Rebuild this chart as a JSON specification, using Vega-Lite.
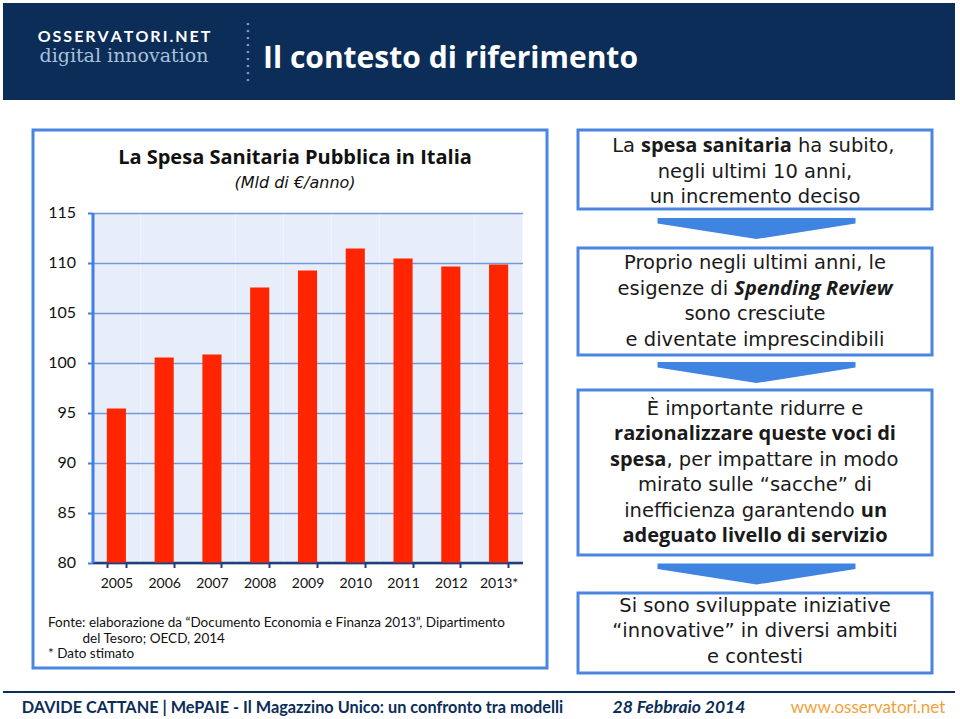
{
  "$schema": "https://vega.github.io/schema/vega-lite/v6.json",
  "padding": {"left": 3, "top": 3, "right": 0, "bottom": 0},
  "background": "white",
  "spacing": 0,
  "config": {"view": {"stroke": null}, "font": "Lato", "concat": {"spacing": 0}},
  "vconcat": [
    {
      "hconcat": [
        {
          "width": 242, "height": 97,
          "view": {"fill": "#0B2D57", "stroke": null},
          "title": {"text": "O\u2009S\u2009S\u2009E\u2009R\u2009V\u2009A\u2009T\u2009O\u2009R\u2009I\u2009.\u2009N\u2009E\u2009T", "subtitle": "digital innovation", "anchor": "middle", "frame": "group", "offset": -62.5, "color": "white", "fontSize": 16, "fontWeight": "bold", "subtitleFont": "DejaVu Serif", "subtitleFontSize": 19, "subtitleColor": "#A9C2DB", "subtitlePadding": 2},
          "data": {"values": []},
          "mark": "point"
        },
        {
          "width": 6, "height": 97,
          "view": {"fill": "#0B2D57", "stroke": null},
          "data": {"values": [{"punti": ["•", "•", "•", "•", "•", "•", "•", "•", "•"]}]},
          "mark": {"type": "text", "color": "#8DA6C6", "fontSize": 6.5, "lineHeight": 7, "dy": -28},
          "encoding": {"text": {"field": "punti", "type": "nominal"}}
        },
        {
          "width": 704, "height": 97,
          "view": {"fill": "#0B2D57", "stroke": null},
          "title": {"text": "Il contesto di riferimento", "anchor": "start", "frame": "group", "dx": 12, "offset": -71.3, "color": "white", "font": "Open Sans", "fontSize": 30, "fontWeight": "bold"},
          "data": {"values": []},
          "mark": "point"
        }
      ],
      "spacing": 0
    },
    {"width": 1, "height": 28, "data": {"values": []}, "mark": "point"},
    {
      "hconcat": [
        {"width": 1, "height": 1, "data": {"values": []}, "mark": "point"},
        {
          "width": 514, "height": 538,
          "view": {"fill": "white", "stroke": "#4A86E0", "strokeWidth": 3},
          "title": {"text": "La Spesa Sanitaria Pubblica in Italia", "subtitle": "(Mld di €/anno)", "anchor": "middle", "frame": "group", "offset": -61, "dx": 5, "font": "Open Sans", "fontSize": 20, "fontWeight": "bold", "color": "#111111", "subtitleFont": "DejaVu Sans", "subtitleFontSize": 16, "subtitleFontStyle": "italic", "subtitleColor": "#111111", "subtitlePadding": 7},
          "data": {"values": [
            {"anno": "2005", "spesa": 95.4},
            {"anno": "2006", "spesa": 100.5},
            {"anno": "2007", "spesa": 100.8},
            {"anno": "2008", "spesa": 107.5},
            {"anno": "2009", "spesa": 109.2},
            {"anno": "2010", "spesa": 111.4},
            {"anno": "2011", "spesa": 110.4},
            {"anno": "2012", "spesa": 109.6},
            {"anno": "2013*", "spesa": 109.8}
          ]},
          "encoding": {
            "y": {
              "field": "spesa", "type": "quantitative",
              "scale": {"domain": [80, 115], "range": [432.5, 82.5], "zero": false, "nice": false},
              "axis": {
                "orient": "left", "offset": -59.5,
                "values": [80, 85, 90, 95, 100, 105, 110, 115],
                "grid": true, "gridColor": "#7398D8", "gridWidth": 1.5,
                "domainColor": "#3F7FE6", "domainWidth": 3,
                "tickColor": "#3F7FE6", "tickSize": 5, "tickWidth": 2,
                "labelPadding": 12, "labelFontSize": 16, "labelColor": "#111111",
                "title": null
              }
            },
            "y2": {"datum": 80}
          },
          "layer": [
            {
              "mark": {"type": "bar", "color": "#FF2500", "opacity": 0},
              "encoding": {
                "x": {
                  "field": "anno", "type": "ordinal", "sort": null,
                  "scale": {"range": [59.5, 489.5], "paddingInner": 0.6, "paddingOuter": 0.3},
                  "axis": {
                    "orient": "top", "grid": true, "gridColor": "#E8EEF9", "gridWidth": 47.8, "gridOpacity": 1,
                    "tickBand": "center", "bandPosition": 0.5,
                    "labels": false, "ticks": false, "domain": false, "title": null
                  }
                }
              }
            },
            {
              "mark": {"type": "bar", "color": "#FF2500"},
              "encoding": {
                "x": {
                  "field": "anno", "type": "ordinal", "sort": null,
                  "scale": {"range": [59.5, 489.5], "paddingInner": 0.6, "paddingOuter": 0.3},
                  "axis": {
                    "orient": "bottom", "offset": -105.5, "grid": false,
                    "tickBand": "extent", "ticks": true, "tickSize": 5, "tickWidth": 2, "tickColor": "#1F3F7C",
                    "domainColor": "#1F3F7C", "domainWidth": 2.5,
                    "labelFontSize": 14, "labelColor": "#111111", "labelPadding": 9, "labelAngle": 0,
                    "title": ["Fonte: elaborazione da “Documento Economia e Finanza 2013”, Dipartimento", "\u200b\u00a0\u00a0\u00a0\u00a0\u00a0\u00a0\u00a0\u00a0\u00a0\u00a0del Tesoro; OECD, 2014", "* Dato stimato"],
                    "titleX": 14.5, "titleY": 64, "titleAlign": "left", "titleBaseline": "alphabetic", "titleAnchor": "start",
                    "titleFontSize": 13.5, "titleFontWeight": "normal", "titleColor": "#111111", "titleLineHeight": 15.5, "titleAngle": 0
                  }
                }
              }
            }
          ],
          "resolve": {"axis": {"x": "independent"}}
        },
        {
          "vconcat": [
            {
              "width": 354, "height": 79,
              "view": {"fill": "white", "stroke": "#4A86E0", "strokeWidth": 3},
              "data": {"values": [{"a": "La", "b": "spesa sanitaria", "c": "ha subito,", "resto": ["negli ultimi 10 anni,", "un incremento deciso"]}]},
              "layer": [
                {"mark": {"type": "text", "font": "DejaVu Sans", "fontSize": 19.5, "align": "right", "dx": -120, "dy": -23.4, "color": "#1A1A1A"}, "encoding": {"text": {"field": "a", "type": "nominal"}}},
                {"mark": {"type": "text", "font": "Open Sans", "fontSize": 20, "fontWeight": "bold", "align": "left", "dx": -114, "dy": -23.4, "color": "#1A1A1A"}, "encoding": {"text": {"field": "b", "type": "nominal"}}},
                {"mark": {"type": "text", "font": "DejaVu Sans", "fontSize": 19.5, "align": "right", "dx": 139.5, "dy": -23.4, "color": "#1A1A1A"}, "encoding": {"text": {"field": "c", "type": "nominal"}}},
                {"mark": {"type": "text", "font": "DejaVu Sans", "fontSize": 19.5, "lineHeight": 25.4, "dy": 2, "color": "#1A1A1A"}, "encoding": {"text": {"field": "resto", "type": "nominal"}}}
              ]
            },
            {
              "width": 357, "height": 35,
              "data": {"values": [{"freccia": "giù"}]},
              "mark": {"type": "point", "shape": "M-1,-0.106L1,-0.106L1,-0.05L0,0.106L-1,-0.05Z", "size": 39204, "filled": true, "color": "#3E84E0", "opacity": 1, "strokeWidth": 0}
            },
            {
              "width": 354, "height": 107,
              "view": {"fill": "white", "stroke": "#4A86E0", "strokeWidth": 3},
              "data": {"values": [{"riga1": "Proprio negli ultimi anni, le", "a": "esigenze di", "b": "Spending Review", "resto": ["sono cresciute", "e diventate imprescindibili"]}]},
              "layer": [
                {"mark": {"type": "text", "font": "DejaVu Sans", "fontSize": 19.5, "dy": -38.1, "color": "#1A1A1A"}, "encoding": {"text": {"field": "riga1", "type": "nominal"}}},
                {"mark": {"type": "text", "font": "DejaVu Sans", "fontSize": 19.5, "align": "right", "dx": -26.85, "dy": -12.7, "color": "#1A1A1A"}, "encoding": {"text": {"field": "a", "type": "nominal"}}},
                {"mark": {"type": "text", "font": "Open Sans", "fontSize": 20, "fontWeight": "bold", "fontStyle": "italic", "align": "left", "dx": -20.65, "dy": -12.7, "color": "#1A1A1A"}, "encoding": {"text": {"field": "b", "type": "nominal"}}},
                {"mark": {"type": "text", "font": "DejaVu Sans", "fontSize": 19.5, "lineHeight": 25.4, "dy": 12.7, "color": "#1A1A1A"}, "encoding": {"text": {"field": "resto", "type": "nominal"}}}
              ]
            },
            {
              "width": 357, "height": 31,
              "data": {"values": [{"freccia": "giù"}]},
              "mark": {"type": "point", "shape": "M-1,-0.106L1,-0.106L1,-0.05L0,0.106L-1,-0.05Z", "size": 39204, "filled": true, "color": "#3E84E0", "opacity": 1, "strokeWidth": 0}
            },
            {
              "width": 354, "height": 165,
              "view": {"fill": "white", "stroke": "#4A86E0", "strokeWidth": 3},
              "data": {"values": [{
                "riga1": "È importante ridurre e",
                "riga2": "razionalizzare queste voci di",
                "riga3a": "spesa",
                "riga3b": ", per impattare in modo",
                "riga4": "mirato sulle “sacche” di",
                "riga5a": "inefficienza garantendo",
                "riga5b": "un",
                "riga6": "adeguato livello di servizio"
              }]},
              "layer": [
                {"mark": {"type": "text", "font": "DejaVu Sans", "fontSize": 19.5, "dy": -63.5, "color": "#1A1A1A"}, "encoding": {"text": {"field": "riga1", "type": "nominal"}}},
                {"mark": {"type": "text", "font": "Open Sans", "fontSize": 20, "fontWeight": "bold", "dy": -38.1, "color": "#1A1A1A"}, "encoding": {"text": {"field": "riga2", "type": "nominal"}}},
                {"mark": {"type": "text", "font": "Open Sans", "fontSize": 20, "fontWeight": "bold", "align": "right", "dx": -88.6, "dy": -12.7, "color": "#1A1A1A"}, "encoding": {"text": {"field": "riga3a", "type": "nominal"}}},
                {"mark": {"type": "text", "font": "DejaVu Sans", "fontSize": 19.5, "align": "left", "dx": -88.6, "dy": -12.7, "color": "#1A1A1A"}, "encoding": {"text": {"field": "riga3b", "type": "nominal"}}},
                {"mark": {"type": "text", "font": "DejaVu Sans", "fontSize": 19.5, "dy": 12.7, "color": "#1A1A1A"}, "encoding": {"text": {"field": "riga4", "type": "nominal"}}},
                {"mark": {"type": "text", "font": "DejaVu Sans", "fontSize": 19.5, "align": "right", "dx": 99.6, "dy": 38.1, "color": "#1A1A1A"}, "encoding": {"text": {"field": "riga5a", "type": "nominal"}}},
                {"mark": {"type": "text", "font": "Open Sans", "fontSize": 20, "fontWeight": "bold", "align": "left", "dx": 105.8, "dy": 38.1, "color": "#1A1A1A"}, "encoding": {"text": {"field": "riga5b", "type": "nominal"}}},
                {"mark": {"type": "text", "font": "Open Sans", "fontSize": 20, "fontWeight": "bold", "dy": 63.5, "color": "#1A1A1A"}, "encoding": {"text": {"field": "riga6", "type": "nominal"}}}
              ]
            },
            {
              "width": 357, "height": 34,
              "data": {"values": [{"freccia": "giù"}]},
              "mark": {"type": "point", "shape": "M-1,-0.106L1,-0.106L1,-0.05L0,0.106L-1,-0.05Z", "size": 39204, "filled": true, "color": "#3E84E0", "opacity": 1, "strokeWidth": 0}
            },
            {
              "width": 354, "height": 80,
              "view": {"fill": "white", "stroke": "#4A86E0", "strokeWidth": 3},
              "data": {"values": [{"righe": ["Si sono sviluppate iniziative", "“innovative” in diversi ambiti", "e contesti"]}]},
              "mark": {"type": "text", "font": "DejaVu Sans", "fontSize": 19.5, "lineHeight": 25.4, "dy": -27, "color": "#1A1A1A"},
              "encoding": {"text": {"field": "righe", "type": "nominal"}}
            }
          ],
          "spacing": 0
        }
      ],
      "spacing": 27
    },
    {"width": 1, "height": 16, "data": {"values": []}, "mark": "point"},
    {"width": 952, "height": 2, "view": {"fill": "#0B2D57", "stroke": null}, "data": {"values": []}, "mark": "point"},
    {
      "hconcat": [
        {
          "width": 579, "height": 30,
          "data": {"values": [{"testo": "DAVIDE CATTANE | MePAIE - Il Magazzino Unico: un confronto tra modelli"}]},
          "mark": {"type": "text", "fontSize": 16.3, "fontWeight": "bold", "color": "#0B2D57"},
          "encoding": {"text": {"field": "testo", "type": "nominal"}}
        },
        {
          "width": 194, "height": 30,
          "data": {"values": [{"testo": "28 Febbraio 2014"}]},
          "mark": {"type": "text", "fontSize": 17.5, "fontWeight": "bold", "fontStyle": "italic", "color": "#0B2D57"},
          "encoding": {"text": {"field": "testo", "type": "nominal"}}
        },
        {
          "width": 184, "height": 30,
          "data": {"values": [{"testo": "www.osservatori.net"}]},
          "mark": {"type": "text", "fontSize": 17, "color": "#F2A23A"},
          "encoding": {"text": {"field": "testo", "type": "nominal"}}
        }
      ],
      "spacing": 0
    }
  ]
}
